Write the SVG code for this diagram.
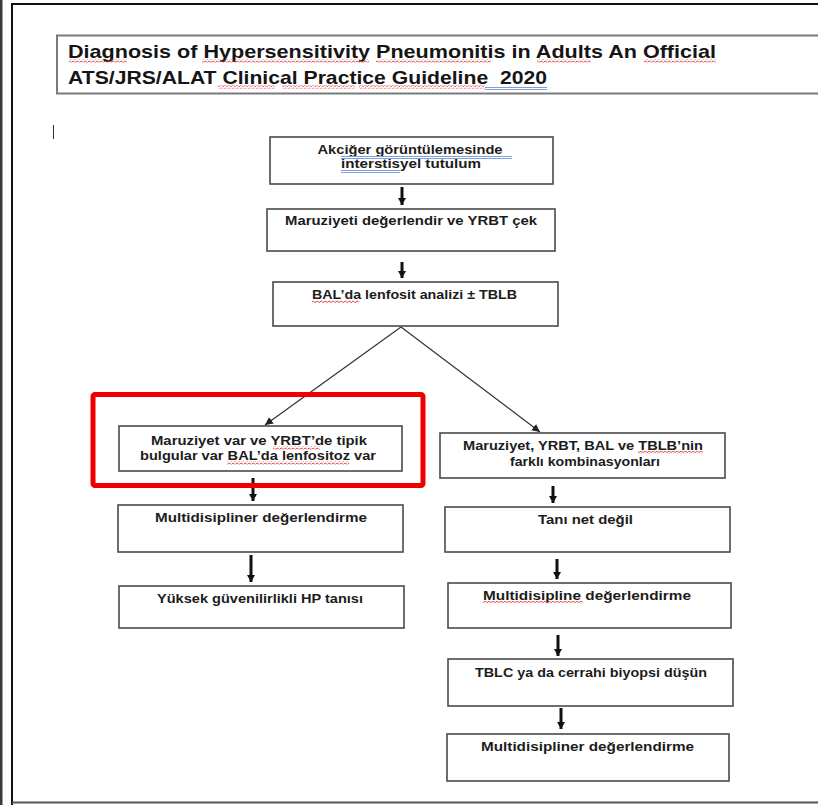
<svg xmlns="http://www.w3.org/2000/svg" width="818" height="805" viewBox="0 0 818 805">
  <style>
    .frame { fill: none; stroke: #111; stroke-width: 2; }
    .box { fill: #fff; stroke: #4a4a4a; stroke-width: 1.6; }
    .title-box { fill: #fff; stroke: #7a7a7a; stroke-width: 2; }
    .t { font-family: "Liberation Sans", "DejaVu Sans", sans-serif; font-weight: bold; font-size: 13px; fill: #1c1c1c; text-anchor: middle; }
    .title { font-family: "Liberation Sans", "DejaVu Sans", sans-serif; font-weight: bold; font-size: 19px; fill: #151515; white-space: pre; }
    .thick { stroke: #111; stroke-width: 3; fill: none; }
    .thin { stroke: #333; stroke-width: 1.2; fill: none; }
    .hl { stroke: #e00; stroke-width: 5; fill: none; }
    .blue { stroke: #7f9fd8; stroke-width: 1; fill: none; }
  </style>
  <defs>
    <pattern id="squig" width="4" height="3" patternUnits="userSpaceOnUse">
      <path d="M0,2.2 Q1,0 2,1.5 T4,2.2" stroke="#e23a3a" stroke-width="0.9" fill="none"/>
    </pattern>
    <marker id="head" markerUnits="userSpaceOnUse" markerWidth="10" markerHeight="10" refX="7" refY="4" orient="auto">
      <path d="M0,0 L7,4 L0,8 Z" fill="#111"/>
    </marker>
    <marker id="headThin" markerUnits="userSpaceOnUse" markerWidth="10" markerHeight="10" refX="8" refY="4" orient="auto">
      <path d="M0,0 L8,4 L0,8 Z" fill="#222"/>
    </marker>
  </defs>

  <!-- page background and frame -->
  <rect x="0" y="0" width="818" height="805" fill="#fff"/>
  <rect x="0" y="0" width="2.5" height="805" fill="#3a3a3a"/>
  <path class="frame" d="M12,805 L12,4 L818,4"/>
  <path d="M12,802.5 L818,802.5" stroke="#555" stroke-width="2"/>

  <!-- heading -->
  <g id="heading">
    <rect class="title-box" x="57" y="35.5" width="770" height="58"/>
    <text class="title" x="68" y="58" textLength="648" lengthAdjust="spacingAndGlyphs">Diagnosis of Hypersensitivity Pneumonitis in Adults An Official</text>
    <text class="title" x="68" y="84" textLength="479" lengthAdjust="spacingAndGlyphs" xml:space="preserve">ATS/JRS/ALAT Clinical Practice Guideline  2020</text>
    <rect x="69" y="59.5" width="58" height="3" fill="url(#squig)"/>
    <rect x="202" y="59.5" width="167" height="3" fill="url(#squig)"/>
    <rect x="376" y="59.5" width="115" height="3" fill="url(#squig)"/>
    <rect x="537" y="59.5" width="54" height="3" fill="url(#squig)"/>
    <rect x="644" y="59.5" width="72" height="3" fill="url(#squig)"/>
    <rect x="218" y="85.5" width="57" height="3" fill="url(#squig)"/>
    <rect x="282" y="85.5" width="73" height="3" fill="url(#squig)"/>
    <rect x="359" y="85.5" width="126" height="3" fill="url(#squig)"/>
    <path class="blue" d="M485,87.5 H547 M485,89.5 H547"/>
  </g>

  <!-- text cursor -->
  <path d="M53.5,125 V139" stroke="#333" stroke-width="1"/>

  <!-- connectors -->
  <g id="connectors">
    <line class="thick" x1="402" y1="187" x2="402" y2="205" marker-end="url(#head)"/>
    <line class="thick" x1="402" y1="262" x2="402" y2="278" marker-end="url(#head)"/>
    <line class="thin" x1="401" y1="327" x2="265" y2="425" marker-end="url(#headThin)"/>
    <line class="thin" x1="401" y1="327" x2="540" y2="432" marker-end="url(#headThin)"/>
    <line class="thick" x1="253" y1="478" x2="253" y2="501" marker-end="url(#head)"/>
    <line class="thick" x1="251" y1="555" x2="251" y2="582" marker-end="url(#head)"/>
    <line class="thick" x1="553" y1="486" x2="553" y2="503" marker-end="url(#head)"/>
    <line class="thick" x1="557" y1="559" x2="557" y2="579" marker-end="url(#head)"/>
    <line class="thick" x1="558" y1="635" x2="558" y2="656" marker-end="url(#head)"/>
    <line class="thick" x1="561" y1="708" x2="561" y2="729" marker-end="url(#head)"/>
  </g>

  <!-- left branch -->
  <g id="n1">
    <rect class="box" x="270" y="137" width="283" height="47"/>
    <text class="t" x="410" y="154" textLength="185" lengthAdjust="spacingAndGlyphs">Akciğer görüntülemesinde</text>
    <text class="t" x="411" y="168" textLength="140" lengthAdjust="spacingAndGlyphs">interstisyel tutulum</text>
    <path class="blue" d="M341,156.5 H512 M341,158.5 H512"/>
    <path class="blue" d="M341,170.5 H400 M341,172.5 H400"/>
  </g>
  <g id="n2">
    <rect class="box" x="267" y="209" width="288" height="42"/>
    <text class="t" x="411" y="225" textLength="252" lengthAdjust="spacingAndGlyphs">Maruziyeti değerlendir ve YRBT çek</text>
  </g>
  <g id="n3">
    <rect class="box" x="273" y="282" width="285" height="44"/>
    <text class="t" x="414.5" y="299" textLength="205" lengthAdjust="spacingAndGlyphs">BAL’da lenfosit analizi ± TBLB</text>
    <rect x="312" y="300" width="47" height="3" fill="url(#squig)"/>
  </g>
  <g id="n4">
    <rect class="box" x="119" y="426" width="283" height="45"/>
    <text class="t" x="259" y="445" textLength="216" lengthAdjust="spacingAndGlyphs">Maruziyet var ve YRBT’de tipik</text>
    <text class="t" x="258" y="460" textLength="236" lengthAdjust="spacingAndGlyphs">bulgular var BAL’da lenfositoz var</text>
    <rect x="273" y="446.5" width="47" height="3" fill="url(#squig)"/>
    <rect x="227" y="461.5" width="122" height="3" fill="url(#squig)"/>
  </g>
  <rect class="hl" x="93" y="394.5" width="330" height="91" rx="2"/>
  <g id="n5">
    <rect class="box" x="118" y="505" width="285" height="47"/>
    <text class="t" x="261" y="522" textLength="212" lengthAdjust="spacingAndGlyphs">Multidisipliner değerlendirme</text>
  </g>
  <g id="n6">
    <rect class="box" x="119" y="586" width="285" height="42"/>
    <text class="t" x="260" y="603" textLength="206" lengthAdjust="spacingAndGlyphs">Yüksek güvenilirlikli HP tanısı</text>
  </g>

  <!-- right branch -->
  <g id="n7">
    <rect class="box" x="440" y="433" width="285" height="45"/>
    <text class="t" x="583" y="450" textLength="240" lengthAdjust="spacingAndGlyphs">Maruziyet, YRBT, BAL ve TBLB’nin</text>
    <text class="t" x="585" y="466" textLength="150" lengthAdjust="spacingAndGlyphs">farklı kombinasyonları</text>
    <rect x="638" y="451" width="65" height="3" fill="url(#squig)"/>
  </g>
  <g id="n8">
    <rect class="box" x="445" y="507" width="285" height="45"/>
    <text class="t" x="585.5" y="524" textLength="95" lengthAdjust="spacingAndGlyphs">Tanı net değil</text>
  </g>
  <g id="n9">
    <rect class="box" x="448" y="583" width="283" height="45"/>
    <text class="t" x="587" y="600" textLength="208" lengthAdjust="spacingAndGlyphs">Multidisipline değerlendirme</text>
    <rect x="483" y="601" width="100" height="3" fill="url(#squig)"/>
  </g>
  <g id="n10">
    <rect class="box" x="448" y="659" width="285" height="47"/>
    <text class="t" x="591" y="677" textLength="232" lengthAdjust="spacingAndGlyphs">TBLC ya da cerrahi biyopsi düşün</text>
  </g>
  <g id="n11">
    <rect class="box" x="447" y="734" width="282" height="47"/>
    <text class="t" x="587.5" y="751" textLength="213" lengthAdjust="spacingAndGlyphs">Multidisipliner değerlendirme</text>
  </g>
</svg>
